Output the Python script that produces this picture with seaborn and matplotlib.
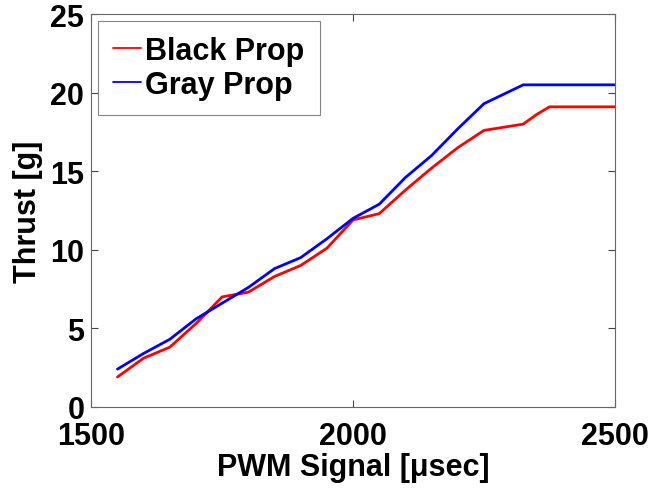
import matplotlib
matplotlib.use("Agg")
import matplotlib.pyplot as plt
import pandas as pd
import seaborn as sns

# PWM signal (usec) and measured thrust (g)
pwm_black = [1550, 1600, 1650, 1700, 1750, 1800, 1850, 1900, 1950, 2000,
             2050, 2100, 2150, 2200, 2250, 2325, 2350, 2375, 2500]
thrust_black = [1.9, 3.1, 3.8, 5.3, 7.0, 7.3, 8.3, 9.0, 10.1, 11.9,
                12.3, 13.8, 15.2, 16.5, 17.6, 18.0, 18.6, 19.1, 19.1]

pwm_gray = [1550, 1600, 1650, 1700, 1750, 1800, 1850, 1900, 1950, 2000,
            2050, 2100, 2150, 2200, 2250, 2325, 2500]
thrust_gray = [2.4, 3.4, 4.3, 5.6, 6.6, 7.6, 8.8, 9.5, 10.7, 12.0,
               12.9, 14.6, 16.0, 17.7, 19.3, 20.5, 20.5]

series_names = ["Black Prop", "Gray Prop"]
series_colors = ["#ff0000", "#0000ff"]

df = pd.concat([
    pd.DataFrame({"pwm": pwm_black, "thrust": thrust_black, "prop": series_names[0]}),
    pd.DataFrame({"pwm": pwm_gray, "thrust": thrust_gray, "prop": series_names[1]}),
])

sns.set_style("white")
plt.rcParams["font.family"] = ["Liberation Sans", "DejaVu Sans"]
plt.rcParams["font.weight"] = "bold"
plt.rcParams["text.color"] = "black"
plt.rcParams["axes.labelcolor"] = "black"

fig = plt.figure(figsize=(6.52, 4.89), dpi=100)
ax = fig.add_axes([0.140, 0.166, 0.803, 0.803])

sns.lineplot(data=df, x="pwm", y="thrust", hue="prop", palette=series_colors,
             hue_order=series_names, estimator=None, sort=False, lw=2, ax=ax)

ax.set_xlim(1500, 2500)
ax.set_ylim(0, 25)
ax.set_xticks([1500, 2000, 2500])
ax.set_yticks([0, 5, 10, 15, 20, 25])
ax.tick_params(direction="in", length=5, width=0.8, colors="#444444",
               labelcolor="black", labelsize=22, top=True, right=True,
               bottom=True, left=True)
ax.tick_params(axis="x", pad=10)
ax.tick_params(axis="y", pad=5)
for lab in ax.get_xticklabels() + ax.get_yticklabels():
    lab.set_fontweight("bold")
for sp in ax.spines.values():
    sp.set_color("#666666")
    sp.set_linewidth(0.8)

ax.set_xlabel("PWM Signal [\u03bcsec]", fontsize=22, fontweight="bold", labelpad=1)
ax.set_ylabel("Thrust [g]", fontsize=22, fontweight="bold", labelpad=5)

leg = ax.legend(loc="upper left", fontsize=22, frameon=True, fancybox=False,
                handlelength=0.9, handletextpad=0.15, borderpad=0.5,
                labelspacing=0.12, borderaxespad=0.22)
leg.get_frame().set_edgecolor("#666666")
leg.get_frame().set_linewidth(0.8)
for t in leg.get_texts():
    t.set_fontweight("bold")
for h in leg.get_lines():
    h.set_linewidth(1.3)

fig.savefig("out.png", dpi=100)
